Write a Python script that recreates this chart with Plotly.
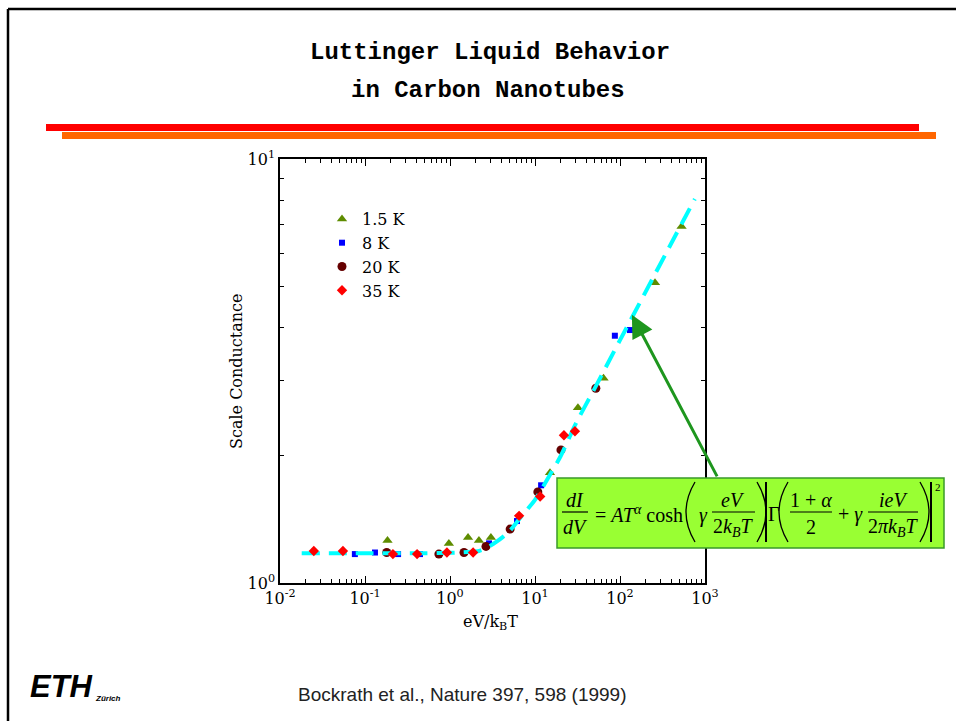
import plotly.graph_objects as go

# ---- measured conductance, scaled (x: eV/kBT, y: scaled dI/dV) ----
x_15K = [0.184, 0.97, 1.63, 2.19, 3.03, 15.0, 32.0, 64.0, 258.0, 530.0]
y_15K = [1.26, 1.24, 1.28, 1.26, 1.28, 1.82, 2.59, 3.04, 5.11, 6.93]

x_8K = [0.076, 0.131, 0.245, 0.444, 2.88, 6.14, 11.8, 87.0, 131.0]
y_8K = [1.17, 1.18, 1.17, 1.17, 1.24, 1.40, 1.70, 3.83, 3.95]

x_20K = [0.18, 0.74, 1.46, 2.65, 5.1, 10.8, 20.2, 52.0]
y_20K = [1.18, 1.17, 1.18, 1.22, 1.34, 1.64, 2.06, 2.88]

x_35K = [0.025, 0.055, 0.213, 0.41, 0.92, 1.87, 6.5, 11.5, 21.9, 29.5]
y_35K = [1.19, 1.19, 1.17, 1.17, 1.18, 1.18, 1.44, 1.60, 2.23, 2.28]

# Luttinger-liquid fit curve
x_fit = [0.018, 0.1, 0.5, 1.0, 1.6, 2.2, 2.6, 3.0, 3.5, 4.2, 5.1, 7.0, 10, 15, 20,
         30, 50, 100, 200, 400, 760]
y_fit = [1.175, 1.175, 1.175, 1.178, 1.183, 1.19, 1.205, 1.225, 1.25, 1.285, 1.33,
         1.44, 1.57, 1.80, 1.99, 2.37, 2.87, 3.74, 4.86, 6.32, 8.05]

# arrow target on the fit curve
arrow_tip = (138, 4.29)

# axis ticks
x_tickvals = [0.01, 0.1, 1, 10, 100, 1000]
x_ticktext = ["10<sup>-2</sup>", "10<sup>-1</sup>", "10<sup>0</sup>",
              "10<sup>1</sup>", "10<sup>2</sup>", "10<sup>3</sup>"]
y_tickvals = [1, 10]
y_ticktext = ["10<sup>0</sup>", "10<sup>1</sup>"]
x_minor = [m * 10.0 ** e for e in range(-2, 3) for m in range(2, 10)]
y_minor = [m for m in range(2, 10)]

series_names = ["1.5 K", "8 K", "20 K", "35 K"]

title_lines = ["Luttinger Liquid Behavior", "in Carbon Nanotubes"]
citation = "Bockrath et al., Nature 397, 598 (1999)"

# ---- page geometry (plot area in pixels) ----
W, H = 956, 721
L, R, T, B = 280, 705, 159, 583


def P(px, py):
    """Pixel position on the page -> paper coordinates."""
    return (px - L) / (R - L), (B - py) / (B - T)


SERIF = "DejaVu Serif"
TIMES = "Liberation Serif"

fig = go.Figure()

fig.add_trace(go.Scatter(x=x_15K, y=y_15K, mode="markers", name=series_names[0],
                         marker=dict(symbol="triangle-up", size=9, color="#5E8C00")))
fig.add_trace(go.Scatter(x=x_8K, y=y_8K, mode="markers", name=series_names[1],
                         marker=dict(symbol="square", size=6, color="#0000FF")))
fig.add_trace(go.Scatter(x=x_20K, y=y_20K, mode="markers", name=series_names[2],
                         marker=dict(symbol="circle", size=9, color="#650000")))
fig.add_trace(go.Scatter(x=x_fit, y=y_fit, mode="lines", showlegend=False,
                         line=dict(color="#00FFFF", width=4, dash="18px,9px",
                                   shape="spline", smoothing=0.6)))
fig.add_trace(go.Scatter(x=x_35K, y=y_35K, mode="markers", name=series_names[3],
                         marker=dict(symbol="diamond", size=8, color="#FF0000")))

axis_common = dict(type="log", showline=True, linecolor="black", linewidth=1.5,
                   mirror="allticks", ticks="inside", ticklen=7, tickcolor="black",
                   tickwidth=1, showgrid=False, zeroline=False,
                   tickfont=dict(family=SERIF, size=16, color="black"))

fig.update_xaxes(range=[-2, 3], tickmode="array", tickvals=x_tickvals,
                 ticktext=x_ticktext,
                 minor=dict(tickmode="array", tickvals=x_minor, ticks="inside",
                            ticklen=4, tickcolor="black", showgrid=False),
                 **axis_common)
fig.update_yaxes(range=[0, 1], tickmode="array", tickvals=y_tickvals,
                 ticktext=y_ticktext,
                 minor=dict(tickmode="array", tickvals=y_minor, ticks="inside",
                            ticklen=4, tickcolor="black", showgrid=False),
                 **axis_common)

shapes = []
annotations = []


def rect(p0, p1, fill, line_color=None, lw=0, layer="above"):
    x0, y0 = P(*p0)
    x1, y1 = P(*p1)
    shapes.append(dict(type="rect", xref="paper", yref="paper", x0=x0, y0=y0,
                       x1=x1, y1=y1, fillcolor=fill, layer=layer,
                       line=dict(color=line_color or fill, width=lw)))


def seg(p0, p1, color="black", lw=1.2):
    x0, y0 = P(*p0)
    x1, y1 = P(*p1)
    shapes.append(dict(type="line", xref="paper", yref="paper", x0=x0, y0=y0,
                       x1=x1, y1=y1, layer="above", line=dict(color=color, width=lw)))


def paren(x_open, x_bulge, top, bottom, lw=1.3):
    """Tall bracket drawn as a quadratic curve."""
    xa, ya = P(x_open, top)
    xb, yb = P(x_bulge, (top + bottom) / 2)
    xc, yc = P(x_open, bottom)
    # control point placed so the curve reaches x_bulge at mid-height
    xq = 2 * xb - xa
    shapes.append(dict(type="path", xref="paper", yref="paper", layer="above",
                       path=f"M {xa},{ya} Q {xq},{yb} {xc},{yc}",
                       line=dict(color="black", width=lw)))


def text(px, py, s, size=20, family=TIMES, xanchor="center", color="black",
         angle=0):
    x, y = P(px, py)
    annotations.append(dict(xref="paper", yref="paper", x=x, y=y, text=s,
                            showarrow=False, xanchor=xanchor, yanchor="middle",
                            textangle=angle,
                            font=dict(family=family, size=size, color=color)))


# page frame (top and left rules)
seg((8, 9), (W, 9), lw=2.5)
seg((8, 9), (8, H), lw=2.5)

# header bars
rect((46, 124), (919, 131), "#FF0000")
rect((62, 132), (936, 139), "#FF6600")

# title
text(490, 52, "<b>" + title_lines[0] + "</b>", size=24, family="Liberation Mono")
text(488, 91, "<b>" + title_lines[1] + "</b>", size=24, family="Liberation Mono")

# axis titles
text(490, 622, "eV/k<sub>B</sub>T", size=16, family=SERIF)
text(236, 371, "Scale Conductance", size=16, family=SERIF, angle=-90)

# arrow from the formula box to the fit curve (log axes take log10 positions)
import math
annotations.append(dict(x=math.log10(arrow_tip[0]), y=math.log10(arrow_tip[1]),
                        xref="x", yref="y", ax=86, ay=163, text="",
                        showarrow=True, arrowhead=2, arrowsize=1.5, arrowwidth=3,
                        arrowcolor="#1E961E", standoff=0))

# formula box
rect((557, 478), (944, 548), "#99FF33", line_color="#3A9A2A", lw=1.5)

# dI/dV
text(575, 500, "<i>dI</i>")
seg((562, 512), (588, 512))
text(575, 527, "<i>dV</i>")
# = A T^alpha cosh
text(593, 514, "= <i>AT</i><sup><i>α</i></sup> cosh", xanchor="left")
paren(695, 686, 482, 542)
text(703, 515, "<i>γ</i>")
text(733, 500, "<i>eV</i>")
seg((712, 512), (755, 512))
text(733, 527, "2<i>k</i><sub><i>B</i></sub><i>T</i>")
paren(757, 766, 482, 542)
seg((766, 482), (766, 542), lw=2)
text(774, 514, "Γ")
paren(788, 779, 482, 542)
text(811, 500, "1 + <i>α</i>")
seg((790, 512), (832, 512))
text(811, 527, "2")
text(850, 514, "+ <i>γ</i>")
text(893, 500, "<i>ieV</i>")
seg((868, 512), (918, 512))
text(893, 527, "2<i>πk</i><sub><i>B</i></sub><i>T</i>")
paren(920, 929, 482, 542)
seg((931, 482), (931, 542), lw=2)
text(938, 487, "2", size=11)

# footer
text(28, 686, "<b><i>ETH</i></b>", size=31, family="Liberation Sans",
     xanchor="left")
text(93, 698, "<b><i>Zürich</i></b>", size=8, family="Liberation Sans",
     xanchor="left")
text(462, 694, citation, size=19, family="Liberation Sans", color="#222222")

lx, ly = P(322, 202)
fig.update_layout(
    width=W, height=H,
    margin=dict(l=L, r=W - R, t=T, b=H - B, pad=0),
    paper_bgcolor="white", plot_bgcolor="white",
    showlegend=True,
    legend=dict(x=lx, y=ly, xanchor="left", yanchor="top",
                bgcolor="rgba(0,0,0,0)", borderwidth=0,
                font=dict(family=SERIF, size=16, color="black"),
                itemwidth=30),
    shapes=shapes, annotations=annotations,
)

fig.write_html("out.html")
